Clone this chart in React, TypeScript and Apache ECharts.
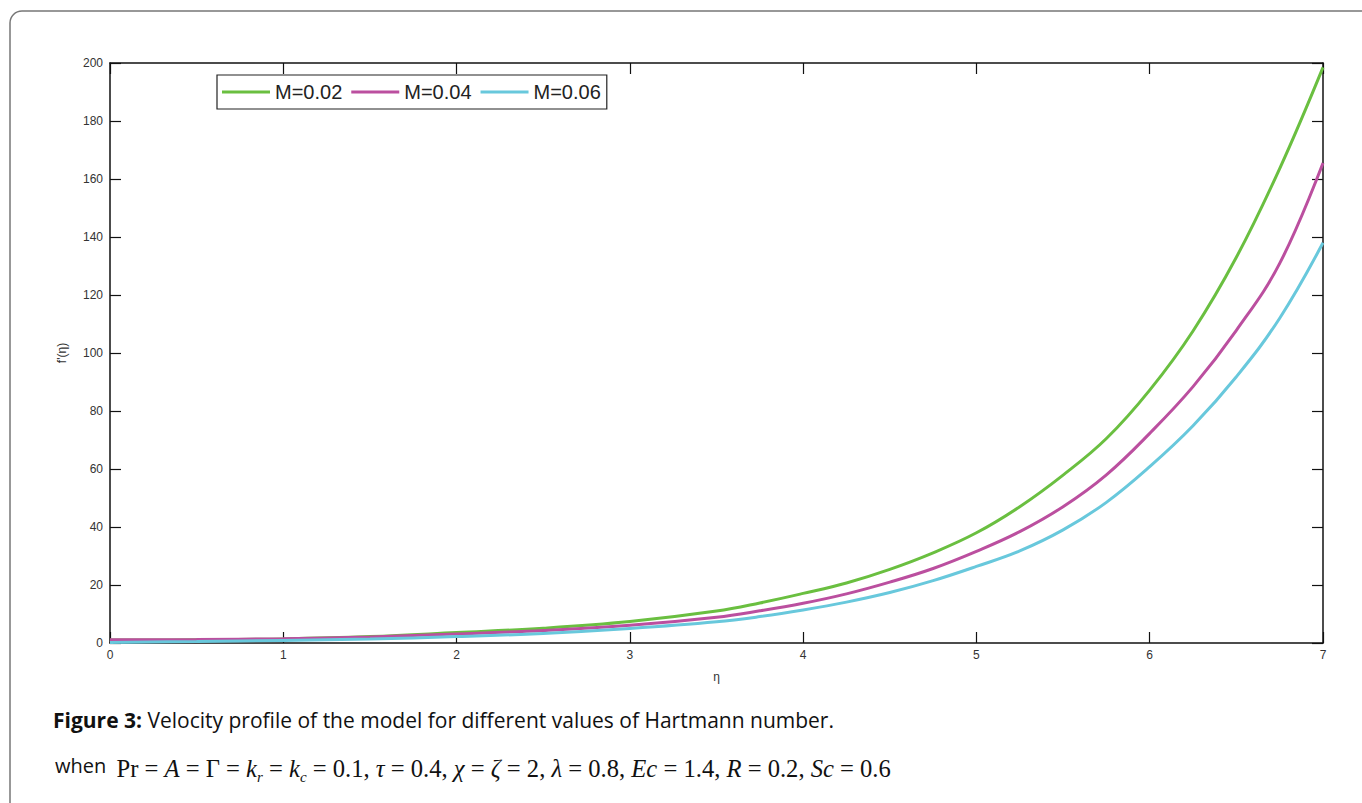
import React, { useEffect, useRef } from "react";
import * as echarts from "echarts";

const eta = [0, 0.5, 1, 1.5, 2, 2.5, 3, 3.5, 3.75, 4, 4.25, 4.5, 4.75, 5, 5.25, 5.5, 5.75, 6, 6.25, 6.5, 6.75, 7];
const m002 = [1.0, 1.1, 1.4, 2.2, 3.6, 5.1, 7.4, 11, 13.8, 17.1, 20.7, 25.4, 31.1, 38, 47, 57.9, 70.5, 87.2, 107.6, 133, 163.6, 198.5];
const m004 = [1.1, 1.2, 1.5, 2.1, 3.1, 4.3, 6.1, 8.9, 11.1, 13.7, 16.95, 21, 25.7, 31.6, 38.4, 47, 58, 72.3, 88.4, 107.8, 130.9, 165.5];
const m006 = [0.2, 0.5, 0.9, 1.4, 2.2, 3.3, 5, 7.3, 9.1, 11.4, 14.1, 17.4, 21.5, 26.4, 31.75, 39, 48.5, 60.8, 74.9, 91.8, 112, 138];
const seriesNames = ["M=0.02", "M=0.04", "M=0.06"];
const seriesColors = ["#6abf40", "#bb4f9f", "#68c8dc"];
const xTicks = { min: 0, max: 7, interval: 1 };
const yTicks = { min: 0, max: 200, interval: 20 };

const AXIS_FONT = "'Liberation Sans', Arial, sans-serif";
const SERIF = "'Liberation Serif', 'Times New Roman', serif";
const SANS = "'Open Sans', sans-serif";

export default function App() {
  const ref = useRef<HTMLDivElement>(null);
  useEffect(() => {
    if (!ref.current) return;
    const chart = echarts.init(ref.current, undefined, { renderer: "svg" });
    const values = [m002, m004, m006];
    const axisCommon = {
      axisLine: { show: true, onZero: false, lineStyle: { color: "#111", width: 1.5 } },
      axisTick: { show: true, inside: true, length: 11, lineStyle: { color: "#111", width: 1.2 } },
      splitLine: { show: false },
    };
    chart.setOption({
      animation: false,
      backgroundColor: "#ffffff",
      grid: { left: 110, top: 63, right: 39, bottom: 160, containLabel: false },
      legend: {
        data: seriesNames,
        left: 217,
        top: 75,
        orient: "horizontal",
        icon: "rect",
        itemWidth: 48,
        itemHeight: 3,
        itemGap: 9,
        padding: [7, 6, 7, 5],
        borderColor: "#222",
        borderWidth: 1.2,
        backgroundColor: "#fff",
        textStyle: { fontSize: 20, fontFamily: AXIS_FONT, color: "#222" },
      },
      xAxis: [
        {
          type: "value",
          position: "bottom",
          ...xTicks,
          ...axisCommon,
          axisLabel: { fontSize: 12, color: "#333", fontFamily: AXIS_FONT, margin: 6 },
          name: "η",
          nameLocation: "middle",
          nameGap: 28,
          nameTextStyle: { fontSize: 12, color: "#333", fontFamily: AXIS_FONT },
        },
        {
          type: "value",
          position: "top",
          ...xTicks,
          ...axisCommon,
          axisLabel: { show: false },
        },
      ],
      yAxis: [
        {
          type: "value",
          position: "left",
          ...yTicks,
          ...axisCommon,
          axisLabel: { fontSize: 12, color: "#333", fontFamily: AXIS_FONT, margin: 7 },
          name: "f'(η)",
          nameLocation: "middle",
          nameGap: 42,
          nameTextStyle: { fontSize: 12, color: "#333", fontFamily: AXIS_FONT },
        },
        {
          type: "value",
          position: "right",
          ...yTicks,
          ...axisCommon,
          axisLabel: { show: false },
        },
      ],
      series: seriesNames.map((name, i) => ({
        name,
        type: "line",
        xAxisIndex: 0,
        yAxisIndex: 0,
        smooth: 0.4,
        symbol: "none",
        showSymbol: false,
        data: eta.map((x, j) => [x, values[i][j]]),
        lineStyle: { color: seriesColors[i], width: 3 },
        itemStyle: { color: seriesColors[i] },
        z: 2 + i,
      })),
      graphic: [
        {
          type: "rect",
          shape: { x: 10, y: 11, width: 1400, height: 900, r: 12 },
          style: { fill: "none", stroke: "#777", lineWidth: 1.5 },
          silent: true,
          z: -10,
        },
        {
          type: "text",
          x: 53,
          y: 720,
          style: {
            text: "{b|Figure 3:}{n| Velocity profile of the model for different values of Hartmann number.}",
            verticalAlign: "middle",
            rich: {
              b: { fontFamily: SANS, fontWeight: "bold", fontSize: 21, fill: "#111" },
              n: { fontFamily: SANS, fontSize: 21, fill: "#111" },
            },
          },
        },
        {
          type: "text",
          x: 55,
          y: 768,
          style: {
            text:
              "{w|when }{m|Pr = }{i|A}{m| = Γ = }{i|k}{s|r}{m| = }{i|k}{s|c}{m| = 0.1, }{i|τ}{m| = 0.4, }{i|χ}{m| = }{i|ζ}{m| = 2, }{i|λ}{m| = 0.8, }{i|Ec}{m| = 1.4, }{i|R}{m| = 0.2, }{i|Sc}{m| = 0.6}",
            verticalAlign: "middle",
            rich: {
              w: { fontFamily: SANS, fontSize: 20, fill: "#111", lineHeight: 32, padding: [0, 5, 6, 0] },
              m: { fontFamily: SERIF, fontSize: 24.6, fill: "#111", lineHeight: 32 },
              i: { fontFamily: SERIF, fontStyle: "italic", fontSize: 24.6, fill: "#111", lineHeight: 32 },
              s: { fontFamily: SERIF, fontStyle: "italic", fontSize: 15, fill: "#111", lineHeight: 12, verticalAlign: "bottom" },
            },
          },
        },
      ],
    });
    return () => chart.dispose();
  }, []);
  return (
    <div
      ref={ref}
      style={{ position: "absolute", left: 0, top: 0, width: 1362, height: 803 }}
    />
  );
}
